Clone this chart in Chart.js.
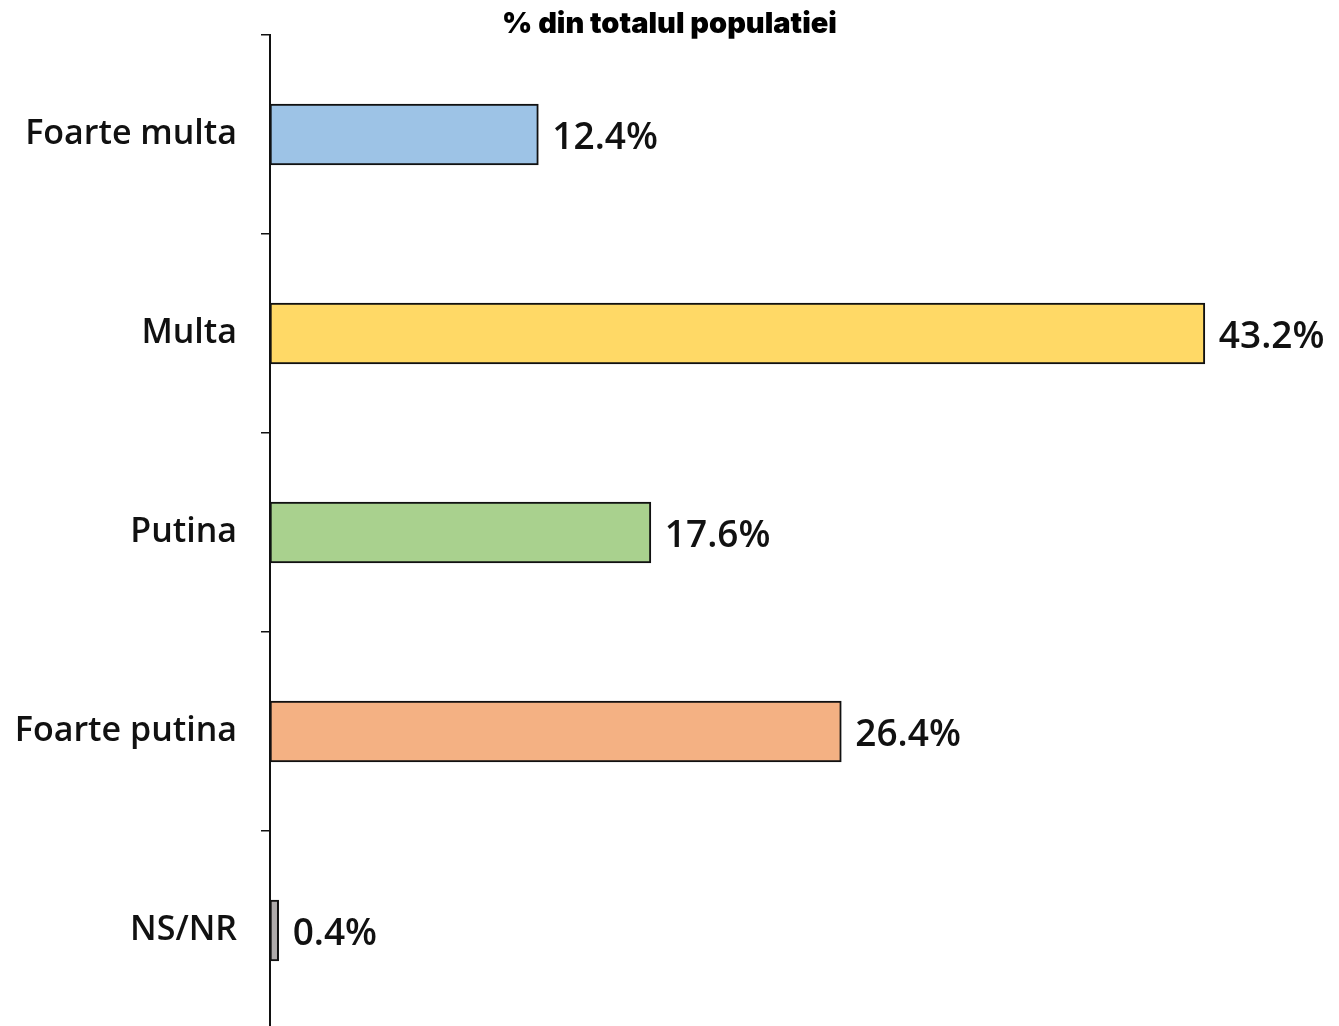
<!DOCTYPE html>
<html>
<head>
<meta charset="utf-8">
<script src="https://cdn.jsdelivr.net/npm/chart.js@4"></script>
<style>
  html, body { margin: 0; padding: 0; background: #fff; overflow: hidden; }
  canvas { display: block; }
</style>
</head>
<body>
<canvas id="chart" width="1339" height="1030"></canvas>
<script>
// chart data
const categories = ['Foarte multa', 'Multa', 'Putina', 'Foarte putina', 'NS/NR'];
const values = [12.4, 43.2, 17.6, 26.4, 0.4];
const barColors = ['#9dc3e6', '#ffd966', '#a9d18e', '#f4b183', '#afabab'];
const titleText = '% din totalul populatiei';

// value labels at the end of each bar
const valueLabels = {
    id: 'valueLabels',
    afterDatasetsDraw(chart) {
        const ctx = chart.ctx;
        const meta = chart.getDatasetMeta(0);
        ctx.save();
        ctx.font = '600 37px "Open Sans"';
        ctx.fillStyle = '#111';
        ctx.textBaseline = 'middle';
        meta.data.forEach((bar, i) => {
            ctx.fillText(values[i].toFixed(1) + '%', bar.x + 14, bar.y + 4);
        });
        ctx.restore();
    }
};

new Chart(document.getElementById('chart'), {
    type: 'bar',
    data: {
        labels: categories,
        datasets: [{
            data: values,
            backgroundColor: barColors,
            borderColor: '#111',
            borderWidth: 2,
            borderSkipped: false,
            barThickness: 61
        }]
    },
    options: {
        indexAxis: 'y',
        responsive: false,
        animation: false,
        layout: { padding: 0 },
        plugins: {
            legend: { display: false },
            tooltip: { enabled: false },
            title: {
                display: true,
                text: titleText,
                color: '#000',
                font: { family: 'Inter', size: 29, weight: 900, lineHeight: 1.0 },
                padding: { top: 10, bottom: -4 }
            }
        },
        scales: {
            x: {
                display: false,
                min: 0,
                max: 49.4
            },
            y: {
                afterFit(scale) {
                    scale.width = 270;
                    scale.paddingTop = 0;
                    scale.paddingBottom = 0;
                },
                border: { display: true, color: '#111', width: 2 },
                grid: {
                    drawOnChartArea: false,
                    drawTicks: true,
                    tickLength: 9,
                    color: '#111',
                    lineWidth: 1.5
                },
                ticks: {
                    color: '#111',
                    padding: 24,
                    font: { family: 'Open Sans', size: 34, weight: 600 }
                }
            }
        }
    },
    plugins: [valueLabels]
});
</script>
</body>
</html>
